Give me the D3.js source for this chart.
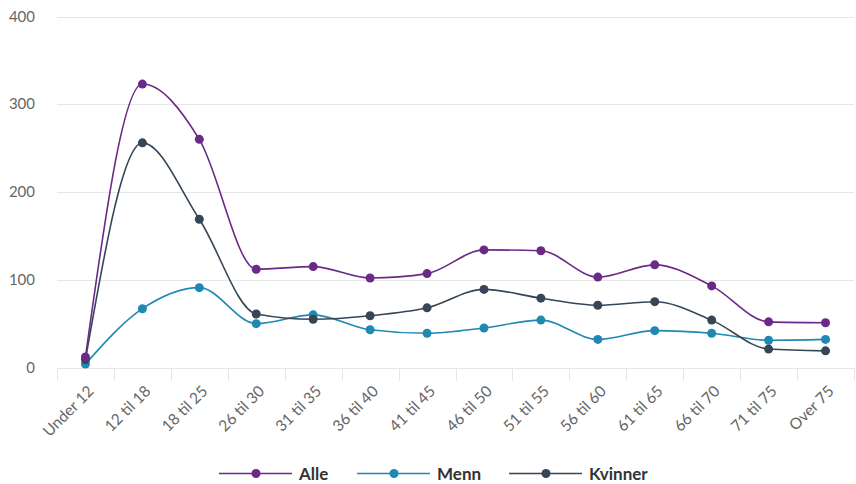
<!DOCTYPE html>
<html><head><meta charset="utf-8">
<script src="https://cdn.jsdelivr.net/npm/d3@7"></script>
<style>body{margin:0;background:#fff;}svg{display:block;font-family:"Source Sans Pro","Lato","Open Sans",sans-serif;}</style>
</head><body><svg id="c" width="856" height="484"></svg>
<script>
const categories = ["Under 12","12 til 18","18 til 25","26 til 30","31 til 35","36 til 40","41 til 45","46 til 50","51 til 55","56 til 60","61 til 65","66 til 70","71 til 75","Over 75"];
const alle    = [12, 323, 260, 112, 115, 102, 107, 134, 133, 103, 117, 93, 52, 51];
const menn    = [4, 67, 91, 50, 60, 43, 39, 45, 54, 32, 42, 39, 31, 32];
const kvinner = [9, 256, 169, 61, 55, 59, 68, 89, 79, 71, 75, 54, 21, 19];
const yTicks = [0, 100, 200, 300, 400];
const seriesNames = ["Alle", "Menn", "Kvinner"];
const seriesColors = ["#6b2a87", "#1f88b3", "#364657"];

const series = [alle, menn, kvinner];
const svg = d3.select("#c");
const x = d3.scaleBand().domain(categories).range([57, 854]);
const y = d3.scaleLinear().domain([0, 400]).range([367.5, 16.5]);

svg.append("g").selectAll("line").data(yTicks).join("line")
  .attr("x1", 57).attr("x2", 854)
  .attr("y1", d => Math.round(y(d)) + 0.5).attr("y2", d => Math.round(y(d)) + 0.5)
  .attr("stroke", "#e6e6e6").attr("stroke-width", 1);

svg.append("g").selectAll("text").data(yTicks).join("text")
  .attr("x", 35).attr("y", d => y(d) + 5)
  .attr("text-anchor", "end").attr("fill", "#666").attr("font-size", 15)
  .text(d => d);

const xAxis = d3.axisBottom(x).tickSize(0).tickFormat("");
const gx = svg.append("g").attr("transform", "translate(0,368)").call(xAxis);
gx.select(".domain").attr("stroke", "#e6e6e6").attr("d", "M57,0.5H854");
const bounds = categories.map(c => x(c)).concat([x(categories[categories.length-1]) + x.bandwidth()]);
svg.append("g").selectAll("line").data(bounds).join("line")
  .attr("x1", d => Math.round(d) + 0.5).attr("x2", d => Math.round(d) + 0.5)
  .attr("y1", 368).attr("y2", 381)
  .attr("stroke", "#e6e6e6");
svg.append("g").selectAll("text").data(categories).join("text")
  .attr("transform", d => `translate(${x(d) + x.bandwidth()/2 + 1},${384}) rotate(-45)`)
  .attr("text-anchor", "end").attr("dy", "0.75em").attr("fill", "#666").attr("font-size", 15.5)
  .text(d => d);

const line = d3.line()
  .x((d, i) => x(categories[i]) + x.bandwidth()/2)
  .y(d => y(d))
  .curve(d3.curveMonotoneX);

[1, 2, 0].forEach(si => {
  const g = svg.append("g");
  g.append("path").attr("d", line(series[si])).attr("fill", "none")
    .attr("stroke", seriesColors[si]).attr("stroke-width", 1.6);
  g.selectAll("circle").data(series[si]).join("circle")
    .attr("cx", (d, i) => x(categories[i]) + x.bandwidth()/2)
    .attr("cy", d => y(d)).attr("r", 4.5)
    .attr("fill", seriesColors[si]);
});

const legendX = [219, 357, 509];
const lg = svg.append("g");
seriesNames.forEach((n, i) => {
  const lx = legendX[i];
  lg.append("line").attr("x1", lx).attr("x2", lx + 73).attr("y1", 473.5).attr("y2", 473.5)
    .attr("stroke", seriesColors[i]).attr("stroke-width", 1.6);
  lg.append("circle").attr("cx", lx + 37).attr("cy", 473.5).attr("r", 4.5).attr("fill", seriesColors[i]);
  lg.append("text").attr("x", lx + 80).attr("y", 479.5).attr("font-size", 17).attr("font-weight", "bold")
    .attr("fill", "#333").text(n);
});
</script></body></html>
